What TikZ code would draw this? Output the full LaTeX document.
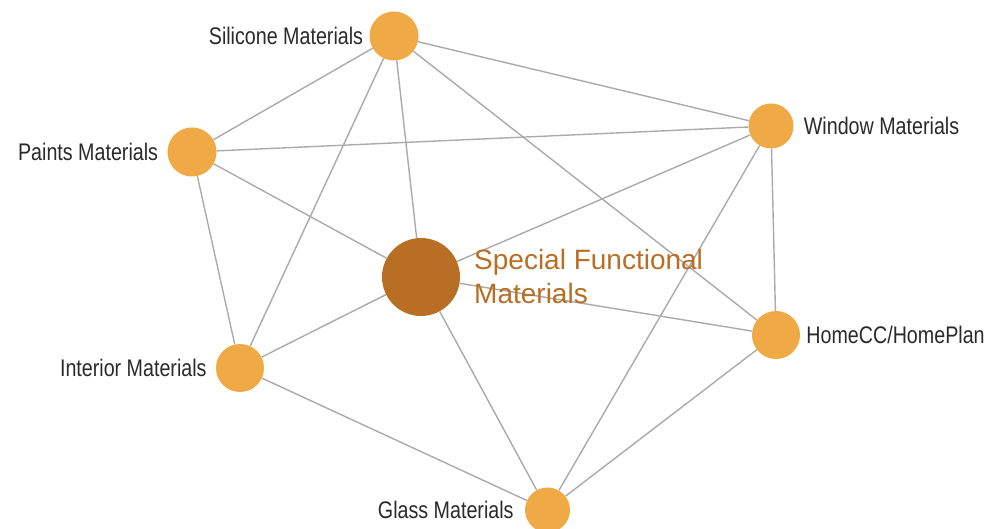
\documentclass[tikz,border=0pt]{standalone}
\usepackage{fontspec}
\setmainfont{Liberation Sans}[FakeStretch=0.82]
\newfontfamily\bigfont{Liberation Sans}
\usetikzlibrary{positioning}
\definecolor{orangenode}{HTML}{F0AA45}
\definecolor{brownnode}{HTML}{B86E23}
\definecolor{edgegray}{HTML}{AAAAAA}
\definecolor{labgray}{HTML}{2A2A2A}
\tikzset{
  small/.style={circle, fill=orangenode, draw=none, inner sep=0pt},
  big/.style={circle, fill=brownnode, draw=none, inner sep=0pt, minimum size=78pt},
  lab/.style={text=labgray, inner sep=0pt, font=\fontsize{24}{28}\selectfont},
  link/.style={draw=edgegray, line width=1.4pt},
}
\begin{document}
\begin{tikzpicture}[x=1pt, y=-1pt]
\useasboundingbox (0,0) rectangle (989,529);
% nodes
\node[small, minimum size=49pt] (sil) at (394,36) {};
\node[small, minimum size=45pt] (win) at (771,126) {};
\node[small, minimum size=49pt] (pai) at (192,152) {};
\node[big] (spe) at (421,277) {};
\node[small, minimum size=48pt] (hom) at (776,335) {};
\node[small, minimum size=48pt] (int) at (240,368) {};
\node[small, minimum size=45pt] (gla) at (547.5,510) {};
% edges
\begin{scope}[on background layer/.style={}]
\end{scope}
\path[link] (sil) -- (win);
\path[link] (sil) -- (pai);
\path[link] (sil) -- (spe);
\path[link] (sil) -- (int);
\path[link] (sil) -- (hom);
\path[link] (pai) -- (win);
\path[link] (pai) -- (spe);
\path[link] (pai) -- (int);
\path[link] (win) -- (spe);
\path[link] (win) -- (hom);
\path[link] (win) -- (gla);
\path[link] (spe) -- (hom);
\path[link] (spe) -- (int);
\path[link] (spe) -- (gla);
\path[link] (hom) -- (gla);
\path[link] (int) -- (gla);
% labels
\node[lab, anchor=east] (silL) at ([xshift=-6pt]sil.west) {Silicone Materials};
\node[lab, anchor=west] (winL) at ([xshift=10pt]win.east) {Window Materials};
\node[lab, anchor=east] (paiL) at ([xshift=-9pt]pai.west) {Paints Materials};
\node[lab, anchor=west] (homL) at ([xshift=6pt]hom.east) {HomeCC/HomePlan};
\node[lab, anchor=east] (intL) at ([xshift=-9pt]int.west) {Interior Materials};
\node[lab, anchor=east] (glaL) at ([xshift=-11pt]gla.west) {Glass Materials};
\node[text=brownnode, inner sep=0pt, anchor=west, align=left,
      font=\bigfont\fontsize{28}{34}\selectfont] (speL) at (474,276) {Special Functional\\Materials};
\end{tikzpicture}
\end{document}
